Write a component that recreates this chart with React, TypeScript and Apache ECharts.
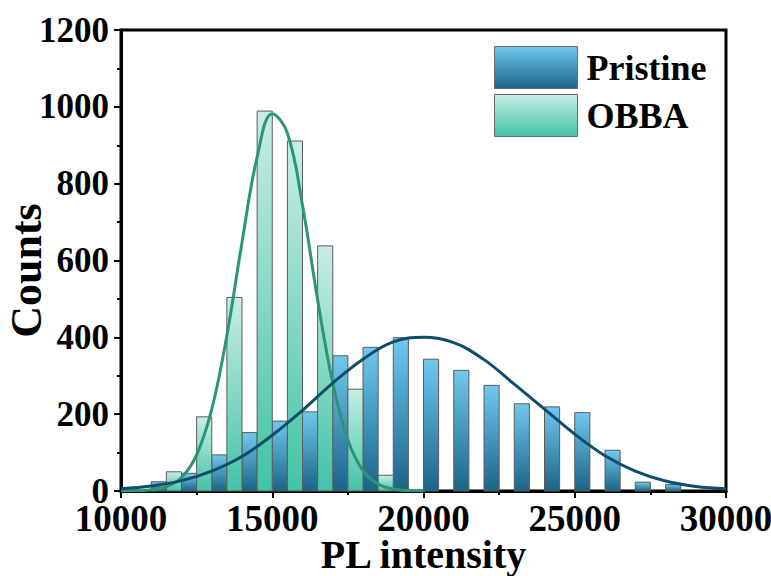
import React, { useEffect, useRef } from "react";
import * as echarts from "echarts";

// Histogram bins (lower edge of each 1000-wide bin)
const binStarts = [11000, 12000, 13000, 14000, 15000, 16000, 17000, 18000, 19000, 20000, 21000, 22000, 23000, 24000, 25000, 26000, 27000, 28000];
const pristineCounts = [24, 46, 94, 152, 182, 206, 352, 374, 399, 343, 314, 275, 227, 219, 204, 106, 23, 17];
const obbaCounts = [50, 193, 504, 989, 911, 638, 265, 41, 0, 0, 0, 0, 0, 0, 0, 0, 0, 0];
const binWidth = 1000;

// Fitted curves
const obbaFitX = [10000, 10500, 11000, 11500, 12000, 12500, 13000, 13500, 14000, 14500, 15000, 15500, 16000, 16500, 17000, 17500, 18000, 18500, 19000, 19500, 20000];
const obbaFitY = [0, 1, 3, 11, 35, 94, 213, 405, 647, 869, 982, 932, 744, 498, 281, 133, 53, 18, 5, 1, 0];
const pristineFitX = [10000, 11000, 12000, 13000, 14000, 15000, 16000, 17000, 18000, 19000, 20000, 21000, 22000, 23000, 24000, 25000, 26000, 27000, 28000, 29000, 30000];
const pristineFitY = [6, 13, 27, 52, 90, 145, 210, 281, 343, 388, 400, 386, 342, 278, 213, 148, 92, 52, 26, 12, 6];

const xTicks = [10000, 15000, 20000, 25000, 30000];
const yTicks = [0, 200, 400, 600, 800, 1000, 1200];

const FONT = "'Liberation Serif', 'Times New Roman', serif";

const blueStops = [
  { offset: 0, color: "#70C8EE" },
  { offset: 1, color: "#1A6486" },
];
const greenStops = [
  { offset: 0, color: "#C8EDE5" },
  { offset: 1, color: "#42C3A7" },
];

function grad(stops: { offset: number; color: string }[]) {
  return new echarts.graphic.LinearGradient(0, 0, 0, 1, stops);
}

function barRenderer(subIndex: number, stops: { offset: number; color: string }[]) {
  return (_params: any, api: any) => {
    const start = api.value(0) as number;
    const v = api.value(1) as number;
    if (!v) return null;
    const half = binWidth / 2;
    const x0 = start + subIndex * half;
    const p0 = api.coord([x0, v]);
    const p1 = api.coord([x0 + half, 0]);
    return {
      type: "rect",
      shape: { x: p0[0], y: p0[1], width: p1[0] - p0[0], height: p1[1] - p0[1] },
      style: { fill: grad(stops), stroke: "#5c5c5c", lineWidth: 1 },
    };
  };
}

export default function App() {
  const ref = useRef<HTMLDivElement>(null);
  useEffect(() => {
    if (!ref.current) return;
    const chart = echarts.init(ref.current, null, { renderer: "svg" });
    const pristineData = binStarts.map((b, i) => [b, pristineCounts[i]]);
    const obbaData = binStarts.map((b, i) => [b, obbaCounts[i]]);
    chart.setOption({
      animation: false,
      backgroundColor: "#fff",
      grid: {
        left: 121,
        right: 45,
        top: 30,
        bottom: 85,
        containLabel: false,
        outerBoundsMode: "none",
        show: true,
        borderColor: "#000",
        borderWidth: 3,
      },
      legend: {
        orient: "vertical",
        left: 494,
        top: 46,
        padding: 0,
        itemWidth: 83,
        itemHeight: 42,
        itemGap: 5,
        selectedMode: false,
        textStyle: { fontFamily: FONT, fontWeight: "bold", fontSize: 36, color: "#000", padding: [0, 0, 0, 4] },
        data: [
          { name: "Pristine", icon: "rect", itemStyle: { color: grad(blueStops), borderColor: "#6a6a6a", borderWidth: 1 } },
          { name: "OBBA", icon: "rect", itemStyle: { color: grad(greenStops), borderColor: "#6a6a6a", borderWidth: 1 } },
        ],
      },
      xAxis: {
        type: "value",
        min: xTicks[0],
        max: xTicks[xTicks.length - 1],
        interval: 5000,
        name: "PL intensity",
        nameLocation: "middle",
        nameGap: 43,
        nameMoveOverlap: false,
        nameTextStyle: { fontFamily: FONT, fontWeight: "bold", fontSize: 40, color: "#000" },
        axisLine: { show: true, lineStyle: { color: "#000", width: 3 } },
        axisTick: { show: true, inside: false, length: 7, lineStyle: { color: "#000", width: 2 } },
        minorTick: { show: true, splitNumber: 2, length: 4, lineStyle: { color: "#000", width: 2 } },
        splitLine: { show: false },
        axisLabel: {
          fontFamily: FONT,
          fontWeight: "bold",
          fontSize: 37,
          lineHeight: 30,
          color: "#000",
          margin: 12,
          formatter: (v: number) => String(v),
        },
      },
      yAxis: {
        type: "value",
        min: yTicks[0],
        max: yTicks[yTicks.length - 1],
        interval: 200,
        name: "Counts",
        nameLocation: "middle",
        nameGap: 73,
        nameMoveOverlap: false,
        nameTextStyle: {
          fontFamily: FONT,
          fontWeight: "bold",
          fontSize: 44,
          color: "#000",
          padding: [0, 20, 0, 0],
        },
        axisLine: { show: true, lineStyle: { color: "#000", width: 3 } },
        axisTick: { show: true, inside: false, length: 7, lineStyle: { color: "#000", width: 2 } },
        minorTick: { show: true, splitNumber: 2, length: 4, lineStyle: { color: "#000", width: 2 } },
        splitLine: { show: false },
        axisLabel: {
          fontFamily: FONT,
          fontWeight: "bold",
          fontSize: 35,
          lineHeight: 24,
          color: "#000",
          margin: 12,
          formatter: (v: number) => String(v),
        },
      },
      series: [
        {
          name: "Pristine",
          type: "custom",
          renderItem: barRenderer(0, blueStops),
          encode: { x: 0, y: 1 },
          data: pristineData,
          itemStyle: { color: "#4FA3CC" },
          z: 2,
        },
        {
          name: "OBBA",
          type: "custom",
          renderItem: barRenderer(1, greenStops),
          encode: { x: 0, y: 1 },
          data: obbaData,
          itemStyle: { color: "#7ED6C2" },
          z: 2,
        },
        {
          name: "OBBA fit",
          type: "line",
          data: obbaFitX.map((x, i) => [x, obbaFitY[i]]),
          smooth: 0.4,
          showSymbol: false,
          lineStyle: { color: "#2A9677", width: 3 },
          z: 3,
        },
        {
          name: "Pristine fit",
          type: "line",
          data: pristineFitX.map((x, i) => [x, pristineFitY[i]]),
          smooth: 0.4,
          showSymbol: false,
          lineStyle: { color: "#0F4D6B", width: 3 },
          z: 4,
        },
      ],
    });
    return () => chart.dispose();
  }, []);
  return (
    <div
      ref={ref}
      style={{ position: "fixed", left: 0, top: 0, width: 771, height: 576, background: "#fff" }}
    />
  );
}
